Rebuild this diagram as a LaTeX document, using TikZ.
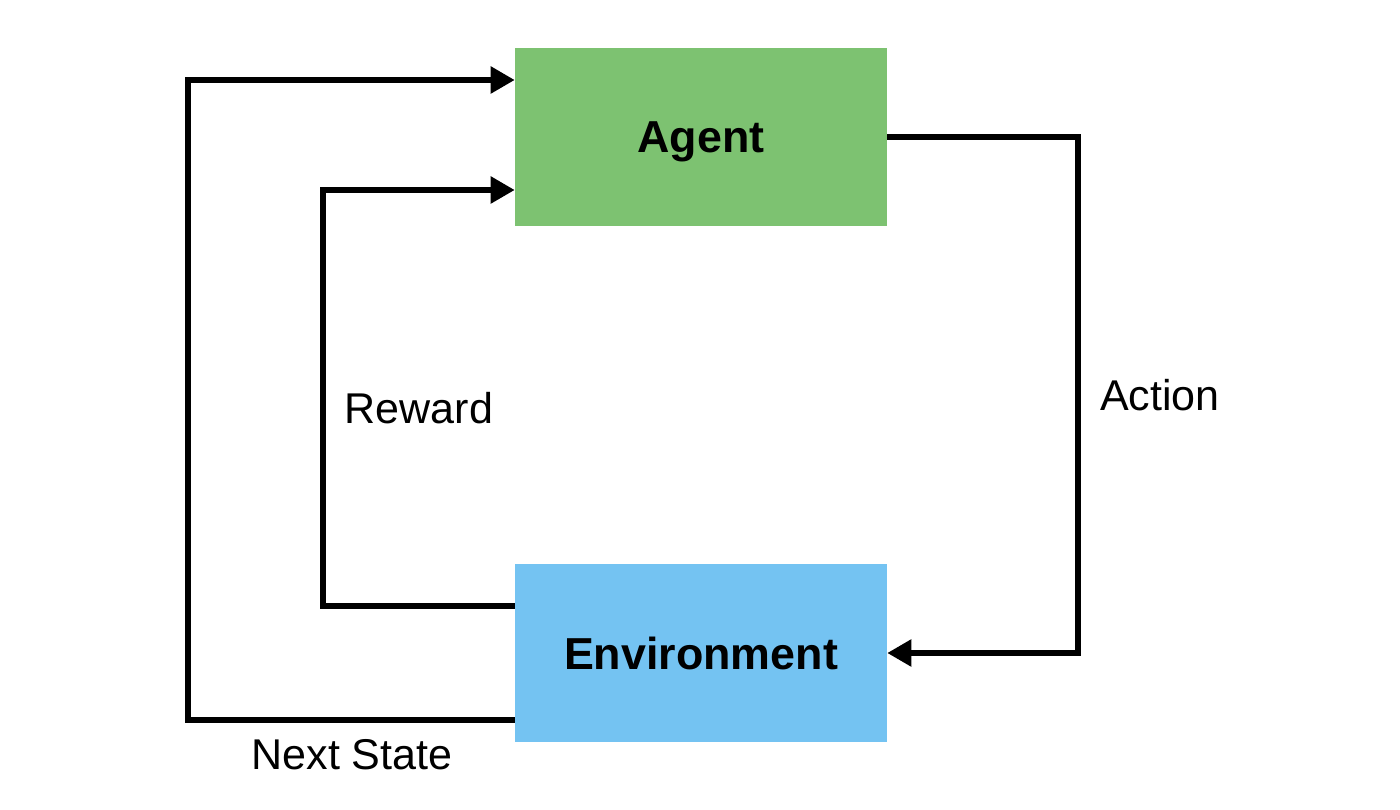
\documentclass[tikz,border=0pt]{standalone}
\usepackage{fontspec}
\setmainfont{Liberation Sans}
\usetikzlibrary{arrows.meta, calc}
\definecolor{agent-green}{HTML}{7DC271}
\definecolor{env-blue}{HTML}{74C3F2}

\begin{document}
\begin{tikzpicture}[x=0.02cm, y=-0.02cm,
    every node/.style={font=\fontsize{24.5pt}{29pt}\selectfont},
    block/.style={minimum width=7.44cm, minimum height=3.56cm, inner sep=0pt,
      text depth=0pt, font=\fontsize{25.5pt}{30pt}\selectfont\bfseries},
    flow/.style={line width=0.11cm, color=black,
      -{Triangle[length=4.8mm, width=5.2mm]}},
    wire/.style={line width=0.11cm, color=black}]
    \useasboundingbox (0, 0) rectangle (1400, 810);
    \node[block, fill=agent-green] (agent) at (701, 137) {Agent};
    \node[block, fill=env-blue] (env) at (701, 653) {Environment};
    % loop corners
    \coordinate (actTop) at (1078, 137);
    \coordinate (actBot) at (1078, 653);
    \coordinate (rwdBot) at (323, 606);
    \coordinate (rwdTop) at (323, 190);
    \coordinate (nxtBot) at (188, 720);
    \coordinate (nxtTop) at (188, 80);
    \draw[flow] (agent.east) -- (actTop) -- (actBot) -- (env.east);
    \draw[flow] ($(env.west)+(0,-47)$) -- (rwdBot) -- (rwdTop)
      -- ($(agent.west)+(0,53)$);
    \draw[flow] ($(env.west)+(0,67)$) -- (nxtBot) -- (nxtTop)
      -- ($(agent.west)+(0,-57)$);
    \node (action) at (1160, 395) {Action};
    \node (reward) at (419, 408) {Reward};
    \node (next) at (352, 755) {Next State};
  \end{tikzpicture}
\end{document}
